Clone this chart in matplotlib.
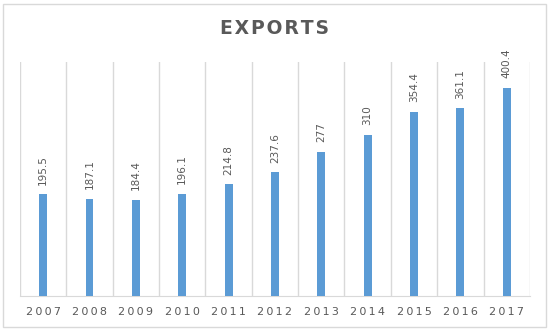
"""
    Exports per year bar chart.
"""

import matplotlib
matplotlib.use('Agg')
import matplotlib.pyplot as plt
from matplotlib.patches import Rectangle

years = ['2007', '2008', '2009', '2010', '2011', '2012',
         '2013', '2014', '2015', '2016', '2017']
exports = [195.5, 187.1, 184.4, 196.1, 214.8, 237.6,
           277, 310, 354.4, 361.1, 400.4]
value_labels = ['195.5', '187.1', '184.4', '196.1', '214.8', '237.6',
                '277', '310', '354.4', '361.1', '400.4']

BAR_COLOR = '#5B9BD5'
GRID_COLOR = '#D9D9D9'
TEXT_COLOR = '#595959'

fig = plt.figure(figsize=(5.5, 3.31), dpi=100)
ax = fig.add_axes([0.0364, 0.1057, 0.927, 0.707])

x = list(range(len(years)))
ax.bar(x, exports, width=0.17, color=BAR_COLOR, zorder=3)

# value labels above bars, rotated
for xi, val, lab in zip(x, exports, value_labels):
    ax.annotate(lab, (xi, val), xytext=(0, 7), textcoords='offset points',
                rotation=90, ha='center', va='bottom', fontsize=7.5,
                color=TEXT_COLOR)

ax.set_xlim(-0.5, len(years) - 0.5)
ax.set_ylim(0, 450)

# vertical separators between categories
for b in [i - 0.5 for i in range(len(years) + 1)]:
    ax.axvline(b, color=GRID_COLOR, lw=1, zorder=1)

for side in ['top', 'left', 'right']:
    ax.spines[side].set_visible(False)
ax.spines['bottom'].set_color(GRID_COLOR)
ax.set_yticks([])
ax.set_xticks(x)
ax.set_xticklabels(['\u2009'.join(y) for y in years], fontsize=8,
                   color=TEXT_COLOR)
ax.tick_params(axis='x', length=0, pad=8)

fig.text(0.5, 0.915, '\u200a'.join('EXPORTS'), ha='center', va='center',
         fontsize=13.5, fontweight='bold', color=TEXT_COLOR)

# outer chart border
fig.patches.append(Rectangle((3 / 550, 4 / 331), 543 / 550, 323 / 331,
                             transform=fig.transFigure, fill=False,
                             edgecolor=GRID_COLOR, lw=1))

fig.savefig('out.png', dpi=100)
